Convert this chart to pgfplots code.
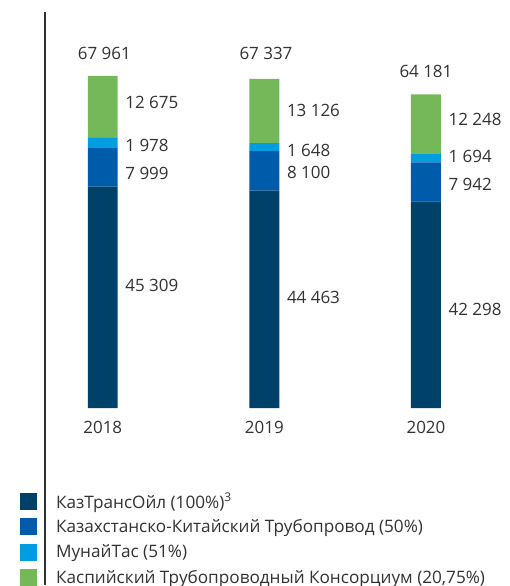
\documentclass[border=0pt]{standalone}
\usepackage{pgfplots}
\pgfplotsset{compat=1.18}
\usepackage{fontspec}
\setmainfont{Open Sans}
\definecolor{cDark}{RGB}{0,65,105}
\definecolor{cMid}{RGB}{0,91,170}
\definecolor{cLight}{RGB}{0,158,224}
\definecolor{cGreen}{RGB}{116,184,90}
\definecolor{cText}{RGB}{50,50,50}
\tikzset{lbl/.style={font=\fontsize{17}{20}\selectfont, text=cText, inner sep=0pt}}
\begin{document}
\begin{tikzpicture}[x=1pt,y=1pt]
\path (0,0) rectangle (511,-586);
\begin{axis}[
  at={(45pt,-409pt)}, anchor=south west,
  scale only axis, width=466pt, height=397pt,
  xmin=-0.358, xmax=2.519, ymin=0, ymax=81020,
  ybar stacked, bar width=30pt,
  axis line style={draw=none},
  major tick length=0pt,
  ytick=\empty,
  xtick={0,1,2}, xticklabels={2018,2019,2020},
  /pgf/number format/assume math mode=true,
  xticklabel style={font=\fontsize{17}{20}\selectfont, text=cText, yshift=-10pt},
  clip=false,
  legend style={draw=none, fill=none, at={(-0.0536,-0.214)}, anchor=north west,
    inner sep=0pt, row sep=8.4pt, font=\fontsize{17.2}{20}\selectfont, text=cText,
    nodes={inner sep=0pt, anchor=west},
    /tikz/every odd column/.style={column sep=19pt}},
  legend cell align=left,
  area legend,
  legend image code/.code={\fill[#1] (0pt,-8.5pt) rectangle (17pt,8.5pt);},
]
\addplot[fill=cDark, draw=none] coordinates {(0,45309) (1,44463) (2,42298)};
\addplot[fill=cMid, draw=none] coordinates {(0,7999) (1,8100) (2,7942)};
\addplot[fill=cLight, draw=none] coordinates {(0,1978) (1,1648) (2,1694)};
\addplot[fill=cGreen, draw=none] coordinates {(0,12675) (1,13126) (2,12248)};
\legend{{КазТрансОйл (100\%)\textsuperscript{3}}, {Казахстанско-Китайский Трубопровод (50\%)}, {МунайТас (51\%)}, {Каспийский Трубопроводный Консорциум (20,75\%)}}
\node[lbl,anchor=west] at (axis cs:0.139,62449) {12 675};
\node[lbl,anchor=west] at (axis cs:0.139,53673) {1 978};
\node[lbl,anchor=west] at (axis cs:0.139,47959) {7 999};
\node[lbl,anchor=west] at (axis cs:0.139,25102) {45 309};
\node[lbl] at (axis cs:0.01,72500) {67 961};
\node[lbl,anchor=west] at (axis cs:1.139,60816) {13 126};
\node[lbl,anchor=west] at (axis cs:1.139,52653) {1 648};
\node[lbl,anchor=west] at (axis cs:1.139,48163) {8 100};
\node[lbl,anchor=west] at (axis cs:1.139,22653) {44 463};
\node[lbl] at (axis cs:1.01,72500) {67 337};
\node[lbl,anchor=west] at (axis cs:2.139,58980) {12 248};
\node[lbl,anchor=west] at (axis cs:2.139,51428) {1 694};
\node[lbl,anchor=west] at (axis cs:2.139,45714) {7 942};
\node[lbl,anchor=west] at (axis cs:2.139,20204) {42 298};
\node[lbl] at (axis cs:2,68900) {64 181};
\end{axis}
\draw[line width=2pt, color=cText] (45,-12) -- (45,-586);
\end{tikzpicture}
\end{document}
